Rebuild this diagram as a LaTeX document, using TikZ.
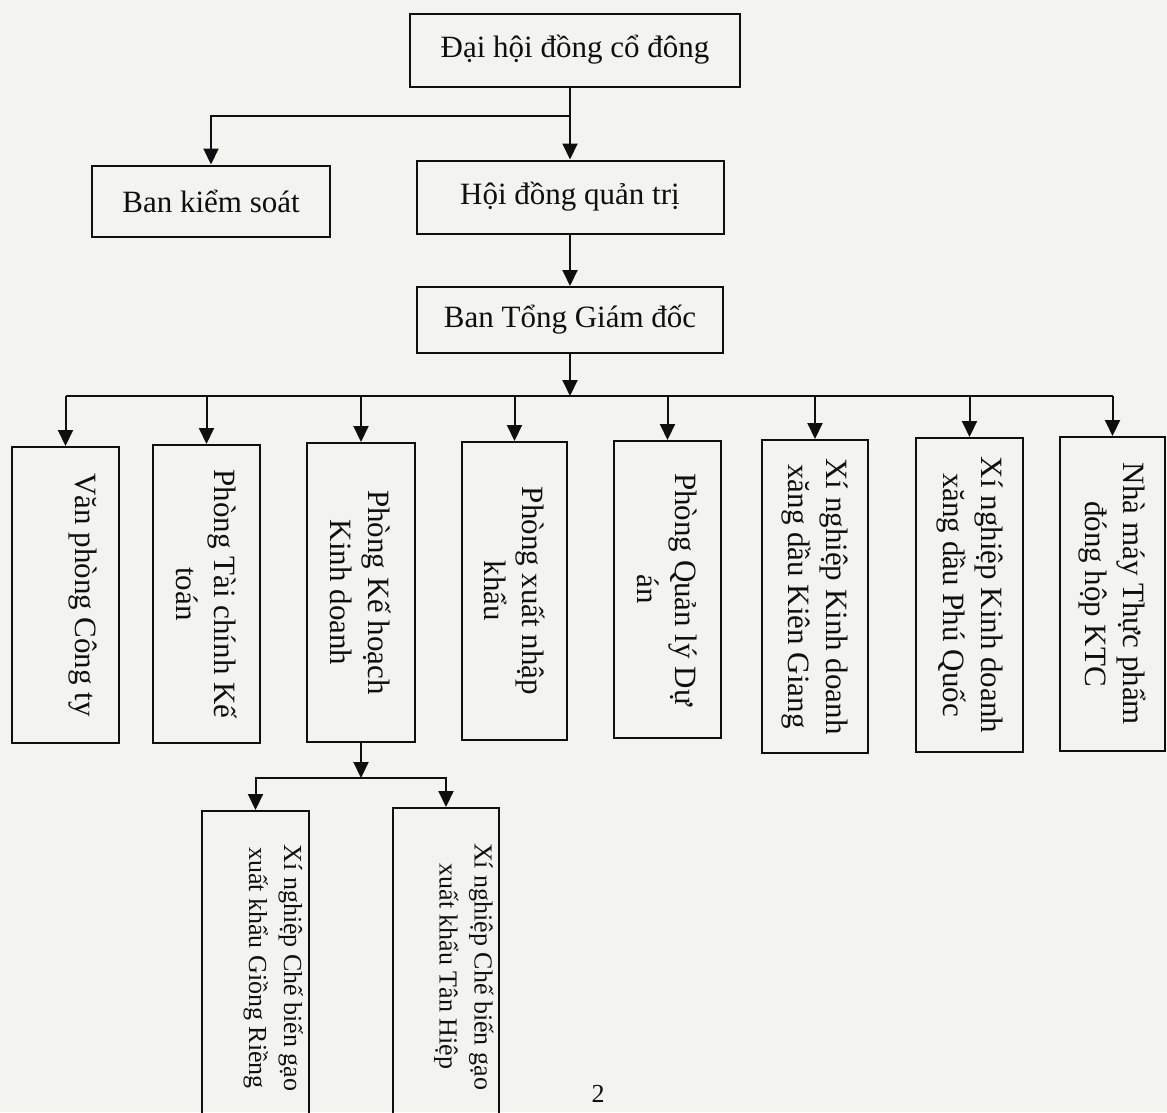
\documentclass[tikz,border=0pt]{standalone}
\usepackage{fontspec}
\setmainfont{Liberation Serif}
\usetikzlibrary{arrows.meta}
\definecolor{paper}{RGB}{243,243,240}
\definecolor{ink}{RGB}{15,15,15}
\newcommand{\bigfont}{\fontsize{31}{35}\selectfont}
\newcommand{\smallfont}{\fontsize{26}{35}\selectfont}
\tikzset{
  box/.style={draw=ink, line width=2pt, inner sep=0pt, font=\bigfont, text=ink},
  hbox/.style 2 args={box, minimum width=#1, minimum height=#2},
  vbox/.style 2 args={box, rotate=-90, align=center, minimum width=#1, minimum height=#2},
  pushed/.style={text depth=41pt},
  arr/.style={draw=ink, line width=2pt, -{Triangle[width=15pt,length=16pt]}},
  link/.style={draw=ink, line width=2pt},
}
\begin{document}
\begin{tikzpicture}[x=1pt,y=-1pt]
  \useasboundingbox (0,0) rectangle (1167,1112);
  \fill[paper] (0,0) rectangle (1167,1112);
  \clip (0,0) rectangle (1167,1112);

  % top of the chart
  \node[hbox={330pt}{73pt}] (dhdcd) at (575,50) {Đại hội đồng cổ đông};
  \node[hbox={238pt}{71pt}] (bks) at (211,201) {Ban kiểm soát};
  \node[hbox={307pt}{73pt}] (hdqt) at (570,197) {Hội đồng quản trị};
  \node[hbox={306pt}{66pt}] (btgd) at (570,320) {Ban Tổng Giám đốc};

  % departments
  \node[vbox={296pt}{107pt}, pushed] (vp) at (65.5,595) {Văn phòng Công ty};
  \node[vbox={298pt}{107pt}] (tckt) at (206.5,594) {Phòng Tài chính Kế\\[3pt]toán};
  \node[vbox={299pt}{108pt}] (khkd) at (361,592.5) {Phòng Kế hoạch\\[3pt]Kinh doanh};
  \node[vbox={298pt}{105pt}] (xnk) at (514.5,591) {Phòng xuất nhập\\[3pt]khẩu};
  \node[vbox={297pt}{107pt}] (qlda) at (667.5,589.5) {Phòng Quản lý Dự\\[3pt]án};
  \node[vbox={313pt}{106pt}] (xnkg) at (815,596.5) {Xí nghiệp Kinh doanh\\[3pt]xăng dầu Kiên Giang};
  \node[vbox={314pt}{107pt}] (xnpq) at (969.5,595) {Xí nghiệp Kinh doanh\\[3pt]xăng dầu Phú Quốc};
  \node[vbox={314pt}{105pt}] (ktc) at (1112.5,594) {Nhà máy Thực phẩm\\[3pt]đóng hộp KTC};

  % rice mills
  \node[vbox={314pt}{107pt}, pushed, font=\smallfont] (gr) at (255.5,968) {Xí nghiệp Chế biến gạo\\xuất khẩu Giồng Riềng};
  \node[vbox={317pt}{106pt}, pushed, font=\smallfont] (th) at (446,966.5) {Xí nghiệp Chế biến gạo\\xuất khẩu Tân Hiệp};

  \node[font=\smallfont, text=ink] (pg) at (598,1094) {2};

  % connectors
  \coordinate (sp1) at (570,116);
  \coordinate (bus) at (570,396);
  \coordinate (sp2) at (361,778);
  \draw[arr] (sp1 |- dhdcd.south) -- (hdqt.north);
  \draw[arr] (sp1) -| (bks.north);
  \draw[arr] (hdqt.south) -- (btgd.north);
  \draw[arr] (btgd.south) -- (bus);
  \draw[link] (bus -| vp.west) -- (bus -| ktc.west);
  \foreach \n in {vp,tckt,khkd,xnk,qlda,xnkg,xnpq,ktc}
    \draw[arr] (bus -| \n.west) -- (\n.west);
  \draw[arr] (khkd.east) -- (sp2);
  \draw[arr] (sp2) -| (gr.west);
  \draw[arr] (sp2) -| (th.west);
\end{tikzpicture}
\end{document}
